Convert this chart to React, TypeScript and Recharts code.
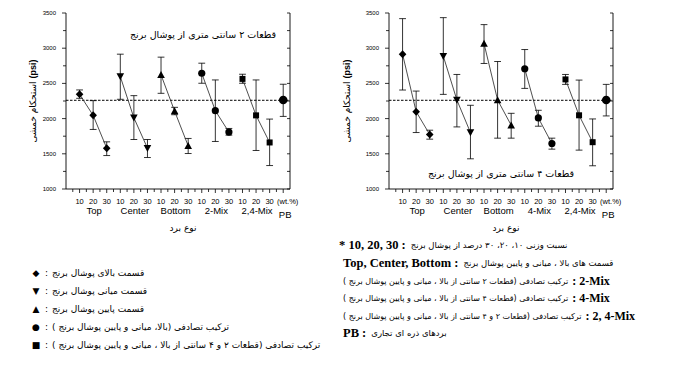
import React from 'react';
import { ComposedChart, Scatter, XAxis, YAxis, ErrorBar, ReferenceLine } from 'recharts';

const FA = '"DejaVu Sans", sans-serif';
const SANS = '"Liberation Sans", Arial, sans-serif';
const SERIF = '"Liberation Serif", "Times New Roman", serif';

// ---- labels ----
const pctLabels = ['10', '20', '30'];
const groups2 = ['Top', 'Center', 'Bottom', '2-Mix', '2,4-Mix'];
const groups4 = ['Top', 'Center', 'Bottom', '4-Mix', '2,4-Mix'];
const pbLabel = 'PB';
const wtLabel = '(wt.%)';
const yTicks = [1000, 1250, 1500, 1750, 2000, 2250, 2500, 2750, 3000, 3250, 3500];
const bottomTicks = [-0.5, 0, 0.5, 1, 1.5, 2, 2.5, 3, 3.5, 4, 4.5, 5, 5.5, 6, 6.5, 7, 7.5, 8, 8.5, 9, 9.5, 10, 10.5, 11, 11.5, 12, 12.5, 13, 13.5, 14, 14.5, 15];
const topTicks = [0, 1, 2, 3, 4, 5, 6, 7, 8, 9, 10, 11, 12, 13, 14, 15];

// ---- 2 cm pieces (left chart) ----
const top2Mean = [2345, 2046, 1580];
const top2Low = [2288, 1846, 1475];
const top2High = [2407, 2255, 1670];
const center2Mean = [2597, 2012, 1580];
const center2Low = [2274, 1703, 1447];
const center2High = [2915, 2326, 1703];
const bottom2Mean = [2621, 2107, 1613];
const bottom2Low = [2359, 2055, 1504];
const bottom2High = [2873, 2160, 1718];
const mix2Mean = [2644, 2112, 1808];
const mix2Low = [2502, 1675, 1765];
const mix2High = [2787, 2549, 1860];
const mix24aMean = [2564, 2046, 1661];
const mix24aLow = [2502, 1547, 1333];
const mix24aHigh = [2630, 2549, 1993];
const pbA = [2264];
const pbALow = [2031];
const pbAHigh = [2488];
const refA = 2260;

// ---- 4 cm pieces (right chart) ----
const top4Mean = [2915, 2099, 1774];
const top4Low = [2406, 1802, 1708];
const top4High = [3420, 2391, 1835];
const center4Mean = [2887, 2264, 1802];
const center4Low = [2344, 1882, 1429];
const center4High = [3434, 2627, 2189];
const bottom4Mean = [3066, 2264, 1906];
const bottom4Low = [2783, 1722, 1722];
const bottom4High = [3335, 2811, 2075];
const mix4Mean = [2708, 2009, 1646];
const mix4Low = [2429, 1892, 1566];
const mix4High = [2981, 2118, 1722];
const mix24bMean = [2557, 2047, 1665];
const mix24bLow = [2486, 1552, 1330];
const mix24bHigh = [2627, 2547, 1995];
const pbB = [2264];
const pbBLow = [2038];
const pbBHigh = [2486];
const refB = 2260;

type Pt = { x: number; y: number; err: [number, number] };
function build(start: number, mean: number[], low: number[], high: number[]): Pt[] {
  return mean.map((m, j) => ({ x: start + j, y: m, err: [m - low[j], high[j] - m] }));
}

// ---- markers ----
const Diamond = (p: any) => (
  <polygon points={`${p.cx},${p.cy - 4} ${p.cx + 3.8},${p.cy} ${p.cx},${p.cy + 4} ${p.cx - 3.8},${p.cy}`} fill="#000" />
);
const TriDown = (p: any) => (
  <polygon points={`${p.cx - 3.8},${p.cy - 3.2} ${p.cx + 3.8},${p.cy - 3.2} ${p.cx},${p.cy + 3.8}`} fill="#000" />
);
const TriUp = (p: any) => (
  <polygon points={`${p.cx - 3.8},${p.cy + 3.2} ${p.cx + 3.8},${p.cy + 3.2} ${p.cx},${p.cy - 3.8}`} fill="#000" />
);
const Dot = (p: any) => <circle cx={p.cx} cy={p.cy} r={3.6} fill="#000" />;
const Sq = (p: any) => <rect x={p.cx - 3} y={p.cy - 3} width={6} height={6} fill="#000" />;
const BigDot = (p: any) => <circle cx={p.cx} cy={p.cy} r={4.3} fill="#000" />;

const shapes = [Diamond, TriDown, TriUp, Dot, Sq];

// ---- ticks ----
const LeftTick = (p: any) => {
  const v = p.payload.value;
  const major = v % 500 === 0;
  return (
    <g>
      <line x1={p.x} x2={p.x - (major ? 4 : 3)} y1={p.y} y2={p.y} stroke="#000" strokeWidth={0.8} />
      {major && (
        <text x={p.x - 10} y={p.y + 2} textAnchor="end" fontSize={6} fontFamily={SANS} fill="#000">
          {v}
        </text>
      )}
    </g>
  );
};
const RightTick = (p: any) => (
  <line x1={p.x} x2={p.x - 3} y1={p.y} y2={p.y} stroke="#000" strokeWidth={0.8} />
);
const TopTick = (p: any) => (
  <line x1={p.x} x2={p.x} y1={p.y} y2={p.y + 3} stroke="#000" strokeWidth={0.8} />
);
const makeBottomTick = (names: string[]) => (p: any) => {
  const v = p.payload.value;
  const isInt = Number.isInteger(v);
  const els: any[] = [
    <line key="l" x1={p.x} x2={p.x} y1={p.y} y2={p.y + (isInt ? 4 : 3)} stroke="#000" strokeWidth={0.8} />,
  ];
  if (isInt && v < 15) {
    els.push(
      <text key="n" x={p.x} y={p.y + 14.5} textAnchor="middle" fontSize={7.5} fontFamily={SANS} fill="#000">
        {pctLabels[v % 3]}
      </text>
    );
    if (v % 3 === 1) {
      els.push(
        <text key="g" x={p.x + 1} y={p.y + 25} textAnchor="middle" fontSize={9.5} fontFamily={SANS} fill="#000">
          {names[(v - 1) / 3]}
        </text>
      );
    }
  }
  if (v === 15) {
    els.push(
      <text key="w" x={p.x + 4.5} y={p.y + 14.5} textAnchor="middle" fontSize={7.5} fontFamily={SANS} fill="#000">
        {wtLabel}
      </text>
    );
    els.push(
      <text key="pb" x={p.x + 2} y={p.y + 28.5} textAnchor="middle" fontSize={9.5} fontFamily={SANS} fill="#000">
        {pbLabel}
      </text>
    );
  }
  return <g>{els}</g>;
};

type ChartProps = {
  names: string[];
  groups: Pt[][];
  pb: Pt[];
  refY: number;
};

function StrengthChart({ names, groups, pb, refY }: ChartProps) {
  return (
    <ComposedChart width={336} height={240} margin={{ top: 13, right: 36, bottom: 21, left: 26 }}>
      <XAxis
        type="number"
        dataKey="x"
        domain={[-1, 15.5]}
        allowDataOverflow
        ticks={bottomTicks}
        interval={0}
        tickSize={0}
        tickMargin={0}
        tickLine={false}
        axisLine={{ stroke: '#000', strokeWidth: 0.9 }}
        height={30}
        tick={makeBottomTick(names)}
      />
      <XAxis
        xAxisId="t"
        orientation="top"
        type="number"
        domain={[-1, 15.5]}
        allowDataOverflow
        ticks={topTicks}
        interval={0}
        tickSize={0}
        tickMargin={0}
        tickLine={false}
        axisLine={{ stroke: '#000', strokeWidth: 0.9 }}
        height={0}
        tick={TopTick}
      />
      <YAxis
        type="number"
        dataKey="y"
        domain={[1000, 3500]}
        allowDataOverflow
        ticks={yTicks}
        interval={0}
        tickSize={0}
        tickMargin={0}
        tickLine={false}
        axisLine={{ stroke: '#000', strokeWidth: 0.9 }}
        width={40}
        tick={LeftTick}
      />
      <YAxis
        yAxisId="r"
        orientation="right"
        type="number"
        domain={[1000, 3500]}
        allowDataOverflow
        ticks={yTicks}
        interval={0}
        tickSize={0}
        tickMargin={0}
        tickLine={false}
        axisLine={{ stroke: '#000', strokeWidth: 0.9 }}
        width={10}
        tick={RightTick}
      />
      <ReferenceLine y={refY} stroke="#000" strokeWidth={1} strokeDasharray="2.5 1.5" />
      {groups.map((g, i) => (
        <Scatter
          key={i}
          data={g}
          dataKey="y"
          shape={shapes[i]}
          line={{ stroke: '#222', strokeWidth: 0.8 }}
          isAnimationActive={false}
        >
          <ErrorBar dataKey="err" direction="y" width={3.4} stroke="#000" strokeWidth={0.8} />
        </Scatter>
      ))}
      <Scatter data={pb} dataKey="y" shape={BigDot} isAnimationActive={false}>
        <ErrorBar dataKey="err" direction="y" width={3.4} stroke="#000" strokeWidth={0.8} />
      </Scatter>
    </ComposedChart>
  );
}

const groupsA = [
  build(0, top2Mean, top2Low, top2High),
  build(3, center2Mean, center2Low, center2High),
  build(6, bottom2Mean, bottom2Low, bottom2High),
  build(9, mix2Mean, mix2Low, mix2High),
  build(12, mix24aMean, mix24aLow, mix24aHigh),
];
const pbDataA = build(15, pbA, pbALow, pbAHigh);
const groupsB = [
  build(0, top4Mean, top4Low, top4High),
  build(3, center4Mean, center4Low, center4High),
  build(6, bottom4Mean, bottom4Low, bottom4High),
  build(9, mix4Mean, mix4Low, mix4High),
  build(12, mix24bMean, mix24bLow, mix24bHigh),
];
const pbDataB = build(15, pbB, pbBLow, pbBHigh);

const abs = (left: number, top: number, extra: any = {}) => ({
  position: 'absolute' as const,
  left,
  top,
  whiteSpace: 'nowrap' as const,
  ...extra,
});
const noWrap = { whiteSpace: 'nowrap' as const, flexShrink: 0 };

const yTitle = 'استحکام خمشی';
const xTitle = 'نوع برد';
const note2 = 'قطعات ۲ سانتی متری از پوشال برنج';
const note4 = 'قطعات ۴ سانتی متری از پوشال برنج';

const leftLegend = [
  { sym: '◆', text: 'قسمت بالای پوشال برنج' },
  { sym: '▼', text: 'قسمت میانی پوشال برنج' },
  { sym: '▲', text: 'قسمت پایین پوشال برنج' },
  { sym: '●', text: 'ترکیب تصادفی (بالا، میانی و پایین پوشال برنج )' },
  { sym: '■', text: 'ترکیب تصادفی (قطعات ۲ و ۴ سانتی از بالا ، میانی و پایین پوشال برنج )' },
];
const leftLegendY = [273, 291, 309, 327, 345];

const rightLegend = [
  { label: '* 10, 20, 30 :', text: 'نسبت وزنی ۱۰، ۲۰، ۳۰ درصد از پوشال برنج', labelFirst: true },
  { label: 'Top, Center, Bottom :', text: 'قسمت های بالا ، میانی و پایین پوشال برنج', labelFirst: true },
  { label: ': 2-Mix', text: 'ترکیب تصادفی (قطعات ۲ سانتی از بالا ، میانی و پایین پوشال برنج )', labelFirst: false },
  { label: ': 4-Mix', text: 'ترکیب تصادفی (قطعات ۴ سانتی از بالا ، میانی و پایین پوشال برنج )', labelFirst: false },
  { label: ': 2, 4-Mix', text: 'ترکیب تصادفی (قطعات ۲ و ۴ سانتی از بالا ، میانی و پایین پوشال برنج )', labelFirst: false },
  { label: 'PB :', text: 'بردهای ذره ای تجاری', labelFirst: true },
];
const rightLegendY = [245, 263, 281, 298, 316, 333];
const rightLegendX = [339, 343, 343, 343, 343, 343];

export default function App() {
  const center = { transform: 'translate(-50%, -50%)' };
  return (
    <div style={{ position: 'absolute', left: 0, top: 0, width: 673, height: 372, background: '#fff', overflow: 'hidden' }}>
      <div style={abs(0, 0)}>
        <StrengthChart names={groups2} groups={groupsA} pb={pbDataA} refY={refA} />
      </div>
      <div style={abs(323, 0)}>
        <StrengthChart names={groups4} groups={groupsB} pb={pbDataB} refY={refB} />
      </div>

      {/* axis titles and notes, left chart */}
      <div style={abs(33, 101, { transform: 'translate(-50%, -50%) rotate(-90deg)', fontFamily: FA, fontSize: 9, direction: 'ltr' })}>
        <span dir="rtl">{yTitle}</span> <b style={{ fontFamily: SANS }}>(psi)</b>
      </div>
      <div style={abs(183, 228, { ...center, fontFamily: FA, fontSize: 9 })} dir="rtl">{xTitle}</div>
      <div style={abs(203, 34, { ...center, fontFamily: FA, fontSize: 9.5 })} dir="rtl">{note2}</div>

      {/* right chart */}
      <div style={abs(347, 101, { transform: 'translate(-50%, -50%) rotate(-90deg)', fontFamily: FA, fontSize: 9, direction: 'ltr' })}>
        <span dir="rtl">{yTitle}</span> <b style={{ fontFamily: SANS }}>(psi)</b>
      </div>
      <div style={abs(506, 228, { ...center, fontFamily: FA, fontSize: 9 })} dir="rtl">{xTitle}</div>
      <div style={abs(501, 173, { ...center, fontFamily: FA, fontSize: 9.5 })} dir="rtl">{note4}</div>

      {/* left legend */}
      {leftLegend.map((it, i) => (
        <div key={i} style={abs(31, leftLegendY[i] - 7, { display: 'flex', alignItems: 'center', height: 14, width: 'max-content', fontFamily: FA, fontSize: 9 })}>
          <span style={{ ...noWrap, width: 10, textAlign: 'center', fontSize: 9 }}>{it.sym}</span>
          <span style={{ ...noWrap, margin: '0 4px 0 4px' }}>:</span>
          <span dir="rtl" style={noWrap}>{it.text}</span>
        </div>
      ))}

      {/* right legend */}
      {rightLegend.map((it, i) => (
        <div key={i} style={abs(rightLegendX[i], rightLegendY[i] - 7, { display: 'flex', alignItems: 'center', height: 14, width: 'max-content', fontSize: it.labelFirst ? 8.5 : 8, fontFamily: FA })}>
          {it.labelFirst ? (
            <>
              <b style={{ ...noWrap, fontFamily: SERIF, fontSize: 12.5, marginRight: 5 }}>{it.label}</b>
              <span dir="rtl" style={noWrap}>{it.text}</span>
            </>
          ) : (
            <>
              <span dir="rtl" style={noWrap}>{it.text}</span>
              <b style={{ ...noWrap, fontFamily: SERIF, fontSize: 12, marginLeft: 4 }}>{it.label}</b>
            </>
          )}
        </div>
      ))}
    </div>
  );
}
